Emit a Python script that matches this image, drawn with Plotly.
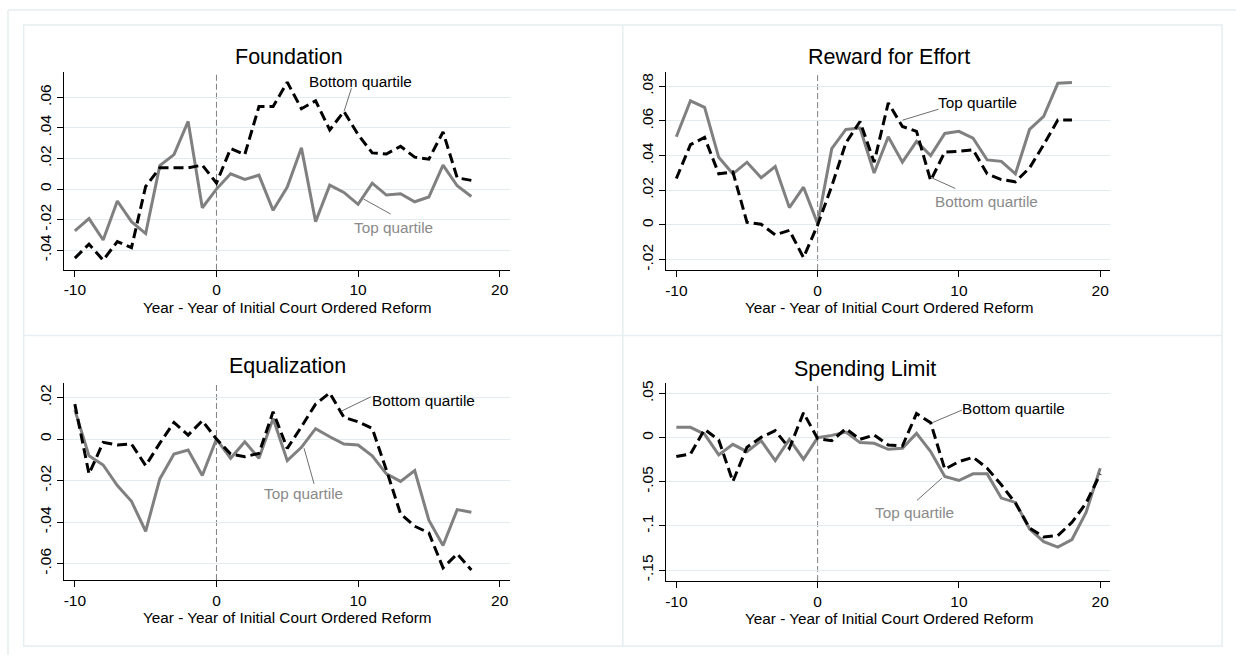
import plotly.graph_objects as go

W, H = 1236, 656

years_a = list(range(-10, 19))   # -10 .. 18
years_b = list(range(-10, 21))   # -10 .. 20

titles = ["Foundation", "Reward for Effort", "Equalization", "Spending Limit"]
xtitle = "Year - Year of Initial Court Ordered Reform"

# Foundation
found_top = [-0.0274, -0.0193, -0.0333, -0.0078, -0.0213, -0.0291, 0.0154, 0.0226, 0.0443, -0.0122,
             0.0, 0.010, 0.0063, 0.0091, -0.0139, 0.0013, 0.027, -0.0213, 0.0026, -0.0022,
             -0.010, 0.0039, -0.0039, -0.003, -0.0083, -0.0052, 0.0157, 0.0022, -0.0048]
found_bot = [-0.0452, -0.036, -0.0465, -0.0343, -0.0383, 0.0017, 0.0139, 0.0139, 0.0139, 0.0157,
             0.004, 0.0265, 0.0226, 0.054, 0.054, 0.070, 0.0526, 0.0578, 0.0387, 0.0509,
             0.0357, 0.0237, 0.023, 0.028, 0.0209, 0.0196, 0.0374, 0.0074, 0.0057]

# Reward for Effort
reward_top = [0.0509, 0.0716, 0.0678, 0.039, 0.0295, 0.0362, 0.0272, 0.0337, 0.010, 0.0218,
              0.0008, 0.044, 0.0551, 0.0559, 0.030, 0.0509, 0.0362, 0.0482, 0.040, 0.0528,
              0.054, 0.050, 0.0375, 0.0367, 0.0295, 0.0551, 0.0626, 0.0817, 0.0821]
reward_bot = [0.0268, 0.0463, 0.0505, 0.0295, 0.0306, 0.0015, 0.0004, -0.0057, -0.0031, -0.0188,
              0.0, 0.0224, 0.0473, 0.0597, 0.0362, 0.0704, 0.0568, 0.054, 0.0256, 0.0421,
              0.0425, 0.0434, 0.0295, 0.0262, 0.0249, 0.0329, 0.0463, 0.0605, 0.0605]

# Equalization
equal_top = [0.0139, -0.0081, -0.0125, -0.0224, -0.030, -0.0444, -0.0192, -0.0072, -0.0053, -0.0176,
             0.0, -0.0093, -0.0013, -0.0093, 0.0099, -0.0104, -0.004, 0.005, 0.0011, -0.0024,
             -0.0029, -0.0081, -0.0168, -0.0204, -0.0152, -0.0391, -0.0513, -0.034, -0.0353]
equal_bot = [0.0168, -0.0168, -0.0016, -0.0029, -0.0024, -0.0128, -0.002, 0.008, 0.0019, 0.0088,
             0.0, -0.0072, -0.0085, -0.0069, 0.0131, -0.0045, 0.0059, 0.0168, 0.0222, 0.0104,
             0.0083, 0.0051, -0.0149, -0.036, -0.042, -0.0452, -0.062, -0.0553, -0.0631]

# Spending Limit
spend_top = [0.0117, 0.0117, 0.0041, -0.0195, -0.0075, -0.0158, -0.0034, -0.0259, -0.0019, -0.0244,
             0.0, 0.0026, 0.0064, -0.0056, -0.0064, -0.0132, -0.012, 0.0049, -0.0158, -0.044,
             -0.0485, -0.041, -0.041, -0.0684, -0.0733, -0.1034, -0.1177, -0.124, -0.1154, -0.0846,
             -0.0346]
spend_bot = [-0.0214, -0.0184, 0.0094, -0.0026, -0.0496, -0.0109, 0.0004, 0.0079, -0.012, 0.0282,
             -0.0011, -0.0034, 0.0102, -0.0019, 0.003, -0.0083, -0.0094, 0.0274, 0.0169, -0.0357,
             -0.0271, -0.0222, -0.0346, -0.0534, -0.0741, -0.1023, -0.1124, -0.1109, -0.0959, -0.0741,
             -0.041]

x_ticks = [-10, 0, 10, 20]
x_ticktext = ["-10", "0", "10", "20"]
y_ticks = [
    [-0.04, -0.02, 0, 0.02, 0.04, 0.06],
    [-0.02, 0, 0.02, 0.04, 0.06, 0.08],
    [-0.06, -0.04, -0.02, 0, 0.02],
    [-0.15, -0.1, -0.05, 0, 0.05],
]
y_ticktext = [
    ["-.04", "-.02", "0", ".02", ".04", ".06"],
    ["-.02", "0", ".02", ".04", ".06", ".08"],
    ["-.06", "-.04", "-.02", "0", ".02"],
    ["-.15", "-.1", "-.05", "0", ".05"],
]

FONT = "Liberation Sans, Arial, Helvetica, sans-serif"
GRAY = "#808080"
GRID = "#e3ebef"
FRAME = "#e6eef1"


def px(x):
    return x / W


def py(y):
    return 1 - y / H


# panel geometry (pixels): left, right, top, bottom of plot region
panels = [
    dict(l=63, r=509, t=70.7, b=269, xr=[-10.77, 20.7], yr=[-0.0528, 0.0764]),
    dict(l=665.7, r=1110, t=70.7, b=269.3, xr=[-10.72, 20.7], yr=[-0.026, 0.088]),
    dict(l=63, r=509, t=382.7, b=580.7, xr=[-10.77, 20.7], yr=[-0.0679, 0.027]),
    dict(l=665.7, r=1110, t=382.7, b=581.7, xr=[-10.72, 20.7], yr=[-0.1624, 0.062]),
]

series = [
    (years_a, found_top, years_a, found_bot),
    (years_a, reward_top, years_a, reward_bot),
    (years_a, equal_top, years_a, equal_bot),
    (years_b, spend_top, years_b, spend_bot),
]

fig = go.Figure()
layout = dict(
    width=W, height=H,
    margin=dict(l=0, r=0, t=0, b=0),
    paper_bgcolor="white", plot_bgcolor="white",
    showlegend=False,
    font=dict(family=FONT, size=15, color="black"),
)
shapes = []
annotations = []

for i, p in enumerate(panels):
    n = "" if i == 0 else str(i + 1)
    xa, ya = "x" + n, "y" + n
    xt, top, xb, bot = series[i]
    fig.add_trace(go.Scatter(x=xt, y=top, mode="lines", xaxis=xa, yaxis=ya,
                             line=dict(color=GRAY, width=3), name="Top quartile"))
    fig.add_trace(go.Scatter(x=xb, y=bot, mode="lines", xaxis=xa, yaxis=ya,
                             line=dict(color="black", width=3, dash="10px,5px"),
                             name="Bottom quartile"))
    layout["xaxis" + n] = dict(
        domain=[px(p["l"]), px(p["r"])], range=p["xr"], anchor=ya,
        tickvals=x_ticks, ticktext=x_ticktext, ticks="outside", ticklen=6,
        tickcolor="black", showline=True, linecolor="black", linewidth=1,
        showgrid=False, zeroline=False, tickfont=dict(size=15.5, family=FONT, color="black"),
    )
    layout["yaxis" + n] = dict(
        domain=[py(p["b"]), py(p["t"])], range=p["yr"], anchor=xa,
        tickvals=y_ticks[i], ticktext=y_ticktext[i], ticks="outside", ticklen=6,
        tickcolor="black", showline=True, linecolor="black", linewidth=1,
        showgrid=True, gridcolor=GRID, gridwidth=1, zeroline=False, tickangle=-90,
        tickfont=dict(size=15.5, family=FONT, color="black"),
    )
    # vertical reference line at 0
    shapes.append(dict(type="line", xref=xa, yref=ya + " domain", x0=0, x1=0, y0=0, y1=1,
                       line=dict(color=GRAY, width=1, dash="6px,3px"), layer="below"))
    # x axis title
    annotations.append(dict(text=xtitle, xref="paper", yref="paper",
                            x=px((p["l"] + p["r"]) / 2 + 1), y=py(p["b"] + 38),
                            showarrow=False, font=dict(size=15.3, family=FONT, color="black"),
                            xanchor="center", yanchor="middle"))

# panel titles
title_pos = [(288, 55), (888.3, 55), (286.7, 366), (864.5, 368.3)]
for t, (tx, ty) in zip(titles, title_pos):
    annotations.append(dict(text=t, xref="paper", yref="paper", x=px(tx), y=py(ty),
                            showarrow=False, font=dict(size=21.5, family=FONT, color="black"),
                            xanchor="center", yanchor="middle"))

# curve labels: (text, color, center px, leader line from -> to)
labels = [
    ("Bottom quartile", "black", (360, 80), (350.7, 86.7), (343.3, 110)),
    ("Top quartile", "#8a8a8a", (393, 227), (390, 213), (363, 198)),
    ("Top quartile", "black", (977.7, 100.7), (938.3, 107.7), (902.3, 118.7)),
    ("Bottom quartile", "#8a8a8a", (986.7, 200.7), (955, 187.3), (931.7, 176.7)),
    ("Bottom quartile", "black", (423.3, 400.7), (370, 396.7), (340.7, 411)),
    ("Top quartile", "#8a8a8a", (302.7, 493.3), (313.3, 484), (303.3, 448.3)),
    ("Bottom quartile", "black", (1013.3, 408.3), (961.7, 410), (931.7, 422.7)),
    ("Top quartile", "#8a8a8a", (914.3, 513.3), (916.7, 500.7), (941.7, 478.3)),
]
for text, col, (cx, cy), (x0, y0), (x1, y1) in labels:
    annotations.append(dict(text=text, xref="paper", yref="paper", x=px(cx), y=py(cy),
                            showarrow=False, font=dict(size=15.3, family=FONT, color=col),
                            xanchor="center", yanchor="middle"))
    shapes.append(dict(type="line", xref="paper", yref="paper", x0=px(x0), y0=py(y0),
                       x1=px(x1), y1=py(y1), line=dict(color="#6e6e6e", width=1)))

# frames
shapes.append(dict(type="line", xref="paper", yref="paper", x0=px(7), x1=1, y0=py(8), y1=py(8),
                   line=dict(color=FRAME, width=1.5)))
shapes.append(dict(type="line", xref="paper", yref="paper", x0=px(7), x1=px(7), y0=py(8), y1=0,
                   line=dict(color=FRAME, width=1.5)))
shapes.append(dict(type="rect", xref="paper", yref="paper", x0=px(22.7), x1=px(1222),
                   y0=py(647), y1=py(23), line=dict(color=FRAME, width=1.5)))
shapes.append(dict(type="line", xref="paper", yref="paper", x0=px(622.3), x1=px(622.3),
                   y0=py(647), y1=py(23), line=dict(color=FRAME, width=1.5)))
shapes.append(dict(type="line", xref="paper", yref="paper", x0=px(22.7), x1=px(1222),
                   y0=py(335), y1=py(335), line=dict(color=FRAME, width=1.5)))

layout["shapes"] = shapes
layout["annotations"] = annotations
fig.update_layout(**layout)
fig.write_html(
    "out.html",
    config={"displayModeBar": False},
    post_script="document.body.style.margin='0';document.body.style.overflow='hidden';",
)
